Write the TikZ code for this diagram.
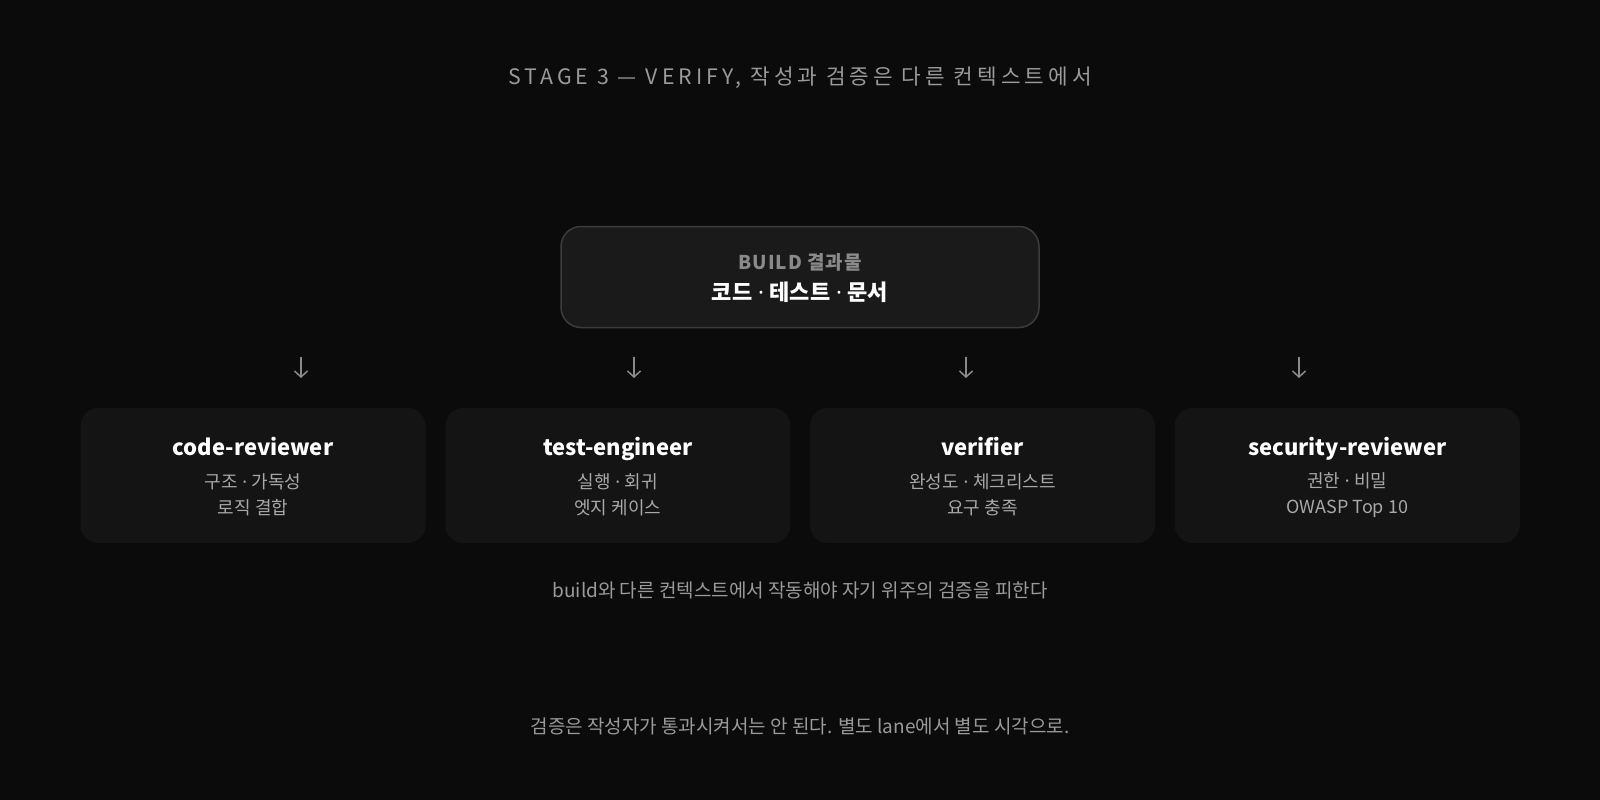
\documentclass[tikz,border=0pt]{standalone}
\usepackage{fontspec}
\setmainfont{Noto Sans CJK KR}
\newfontfamily\stagefont[LetterSpace=19]{Noto Sans CJK KR}
\newfontfamily\buildfont[LetterSpace=5]{Noto Sans CJK KR}
\newfontfamily\dotfont{Noto Sans}
\newcommand{\md}{{\dotfont\ ·\ }}
\usetikzlibrary{arrows.meta}

\definecolor{bgdark}{HTML}{0B0B0B}
\definecolor{buildfill}{HTML}{1A1A1A}
\definecolor{buildline}{HTML}{3C3C3C}
\definecolor{lanefill}{HTML}{141414}
\definecolor{mutedtext}{HTML}{9A9A9A}
\definecolor{subtext}{HTML}{A8A8A8}
\definecolor{arrowgray}{HTML}{8A8A8A}

\tikzset{
  lane/.style={fill=lanefill,rounded corners=18pt,minimum width=345pt,minimum height=135pt},
  lanetitle/.style={text=white,text height=16pt,text depth=5pt,font=\bfseries\fontsize{22}{26}\selectfont},
  lanesub/.style={text=subtext,align=center,font=\fontsize{18}{26}\selectfont},
  note/.style={text=mutedtext,font=\fontsize{19}{23}\selectfont},
  down/.style={arrowgray,line width=1.5pt,-{Straight Barb[length=6pt,width=13pt]}}
}

\begin{document}
\begin{tikzpicture}[x=1pt,y=-1pt]
	\fill[bgdark] (0,0) rectangle (1600,800);
	\useasboundingbox (0,0) rectangle (1600,800);
	\node[text=mutedtext,font=\stagefont\fontsize{21.3}{24}\selectfont] (stage) at (800,78) {STAGE 3 — VERIFY, 작성과 검증은 다른 컨텍스트에서};
	% build output
	\node[draw=buildline,fill=buildfill,line width=1.5pt,rounded corners=20pt,minimum width=478pt,minimum height=101pt] (build) at (800,277) {};
	\node[text=arrowgray,font=\buildfont\bfseries\fontsize{19}{22}\selectfont] (buildlbl) at (800,262) {BUILD 결과물};
	\node[text=white,font=\bfseries\fontsize{22}{26}\selectfont] (buildout) at (800,292) {코드\md 테스트\md 문서};
	% arrows
	\coordinate (a1) at (301,357); \coordinate (b1) at (301,378);
	\coordinate (a2) at (634,357); \coordinate (b2) at (634,378);
	\coordinate (a3) at (966,357); \coordinate (b3) at (966,378);
	\coordinate (a4) at (1299,357); \coordinate (b4) at (1299,378);
	\draw[down] (a1) -- (b1);
	\draw[down] (a2) -- (b2);
	\draw[down] (a3) -- (b3);
	\draw[down] (a4) -- (b4);
	% verify lanes
	\node[lane] (reviewer) at (253,475.5) {};
	\node[lane] (tester) at (617.8,475.5) {};
	\node[lane] (verifier) at (982.5,475.5) {};
	\node[lane] (security) at (1347.3,475.5) {};
	\node[lanetitle] (reviewert) at (253,450) {code-reviewer};
	\node[lanetitle] (testert) at (617.8,450) {test-engineer};
	\node[lanetitle] (verifiert) at (982.5,450) {verifier};
	\node[lanetitle] (securityt) at (1347.3,450) {security-reviewer};
	\node[lanesub] (reviewers) at (253,495) {구조\md 가독성\\로직 결합};
	\node[lanesub] (testers) at (617.8,495) {실행\md 회귀\\엣지 케이스};
	\node[lanesub] (verifiers) at (982.5,495) {완성도\md 체크리스트\\요구 충족};
	\node[lanesub] (securitys) at (1347.3,495) {권한\md 비밀\\OWASP Top 10};
	% notes
	\node[note] (context) at (800,590) {build와 다른 컨텍스트에서 작동해야 자기 위주의 검증을 피한다};
	\node[note] (rule) at (800,726.5) {검증은 작성자가 통과시켜서는 안 된다. 별도 lane에서 별도 시각으로.};
\end{tikzpicture}
\end{document}
